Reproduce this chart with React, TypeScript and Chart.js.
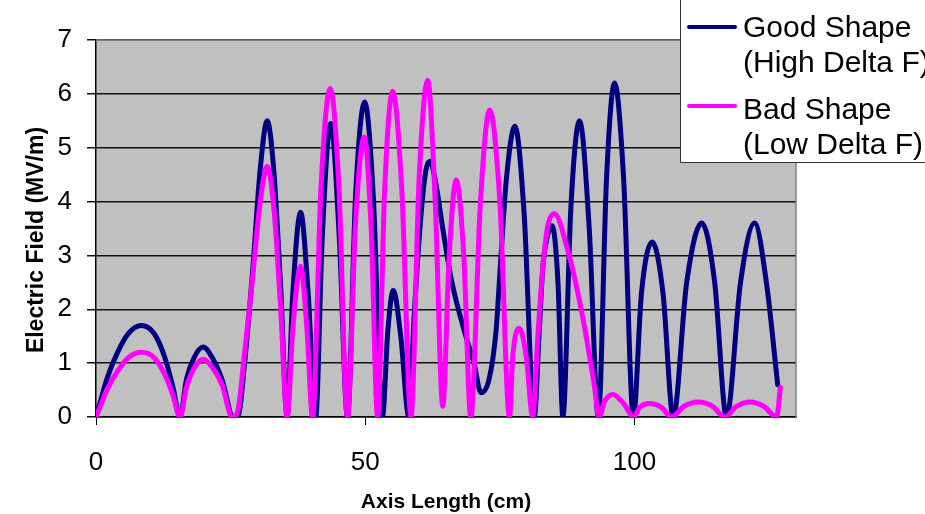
import React, { useEffect, useRef } from "react";
import { Chart, registerables } from "chart.js";

Chart.register(...registerables);

// ---- data ----
const goodLabel = ["Good Shape", "(High Delta F)"];
const badLabel = ["Bad Shape", "(Low Delta F)"];
const xTitle = "Axis Length (cm)";
const yTitle = "Electric Field (MV/m)";

const goodX = [
  0, 1, 2, 4, 6, 8.4, 10.8, 12.8, 14.3, 15.6,
  16.8, 18.2, 19.9, 21.6, 23.4, 25.5,
  26.5, 27.5, 29, 30.5, 31.8, 33, 34.3, 35.5,
  36.5, 38, 39.4, 40.8,
  42, 43.6, 45.2, 46.7,
  48.2, 49.9, 51.5, 53.2,
  54.2, 55.2, 56.6, 58.1,
  59.1, 60.4, 61.3, 62, 63, 64.4, 66, 68.4, 70.2, 71.5, 73, 74.3, 74.9, 76.2, 77.8, 79.5, 81.4,
  82.3, 83, 84.2, 84.7, 85.8, 86.7,
  88.2, 89.8, 91.6, 93.3,
  94.8, 96.3, 98, 99.8,
  101.3, 103.3, 105.3, 107.2,
  109.7, 112.5, 114.9, 117.1,
  119.7, 122.3, 124.5, 126.6,
];
const goodY = [
  0, 0.35, 0.7, 1.2, 1.55, 1.7, 1.55, 1.1, 0.55, 0,
  0.7, 1.1, 1.3, 1.1, 0.7, 0,
  0.05, 0.9, 2.6, 4.6, 5.5, 4.6, 2.4, 0,
  2.2, 3.8, 2.3, 0,
  3.3, 5.45, 3.3, 0,
  4.1, 5.85, 4.1, 0,
  1.6, 2.35, 1.5, 0,
  1.9, 3.8, 4.6, 4.75, 4.4, 3.5, 2.55, 1.6, 1.0, 0.45, 0.7, 1.6, 2.5, 4.4, 5.4, 3.8, 0,
  1.56, 2.8, 3.48, 3.55, 2.49, 0,
  3.9, 5.5, 3.5, 0,
  4.4, 6.2, 4.4, 0,
  2.3, 3.25, 2.3, 0,
  2.5, 3.6, 2.5, 0,
  2.5, 3.6, 2.5, 0.6,
];

const badX = [
  0, 1, 2, 4, 6, 8.4, 10.8, 12.8, 14.3, 15.6,
  16.8, 18.2, 19.9, 21.6, 23.4, 25.3,
  26.3, 27.4, 29, 30.5, 31.8, 33.1, 34.3, 35.5,
  36.6, 38, 39.2, 40.2,
  41.8, 43.5, 45.1, 46.7,
  48.2, 49.8, 51.1, 52.3,
  53.6, 55.1, 56.8, 58.5,
  60, 61.6, 63, 64.4, 65.6, 66.9, 68.3, 69.6,
  71.4, 73.1, 75, 76.8,
  77.4, 78.6, 79.9, 81.1,
  82.1, 83, 83.9, 85.1, 87.6, 90.1, 92.6, 93.4,
  94.5, 96, 98, 99.8,
  101, 102.8, 105, 106.9,
  109.2, 111.9, 114.5, 116.8,
  119, 121.5, 124, 126.4, 127.1,
];
const badY = [
  0, 0.25, 0.5, 0.85, 1.1, 1.2, 1.1, 0.78, 0.4, 0,
  0.55, 0.9, 1.07, 0.92, 0.6, 0,
  0.1, 1.0, 2.5, 4.0, 4.65, 3.8, 2.0, 0,
  1.7, 2.8, 1.6, 0,
  4.3, 6.1, 4.3, 0,
  3.6, 5.2, 3.5, 0,
  4.2, 6.05, 4.2, 0,
  4.4, 6.25, 4.0, 0.2, 3.0, 4.4, 3.0, 0,
  4.0, 5.7, 4.0, 0,
  1.12, 1.65, 1.12, 0,
  1.56, 2.8, 3.54, 3.78, 3.1, 2.0, 0.55, 0,
  0.3, 0.42, 0.25, 0,
  0.18, 0.25, 0.18, 0,
  0.2, 0.28, 0.2, 0,
  0.2, 0.28, 0.2, 0, 0.55,
];

const xTicks = [0, 50, 100];
const xMax = 130;
const yMax = 7;

const GOOD_COLOR = "#000080";
const BAD_COLOR = "#FF00FF";
const SANS = '"Liberation Sans", Arial, sans-serif';

const toPoints = (xs: number[], ys: number[]) => xs.map((x, i) => ({ x, y: ys[i] }));

const decorPlugin = {
  id: "decor",
  beforeDraw(chart: any) {
    const { ctx, chartArea: a } = chart;
    ctx.save();
    ctx.fillStyle = "#ffffff";
    ctx.fillRect(0, 0, chart.width, chart.height);
    ctx.fillStyle = "#C0C0C0";
    ctx.fillRect(a.left, a.top, a.right - a.left, a.bottom - a.top);
    ctx.restore();
  },
  beforeDatasetsDraw(chart: any) {
    const { ctx, chartArea: a } = chart;
    ctx.save();
    ctx.strokeStyle = "#808080";
    ctx.lineWidth = 1.5;
    ctx.beginPath();
    ctx.moveTo(a.left, a.top);
    ctx.lineTo(a.right, a.top);
    ctx.lineTo(a.right, a.bottom);
    ctx.stroke();
    ctx.restore();
  },
  afterDraw(chart: any) {
    const { ctx, chartArea: a } = chart;
    ctx.save();
    // y axis title
    ctx.fillStyle = "#000";
    ctx.font = `bold 23px ${SANS}`;
    ctx.textAlign = "center";
    ctx.textBaseline = "alphabetic";
    ctx.translate(43, 240);
    ctx.rotate(-Math.PI / 2);
    ctx.fillText(yTitle, 0, 0);
    ctx.restore();

    // legend
    const boxL = 680;
    const boxB = 162;
    ctx.save();
    ctx.fillStyle = "#ffffff";
    ctx.fillRect(boxL, -2, chart.width - boxL + 2, boxB + 2);
    ctx.strokeStyle = "#333333";
    ctx.lineWidth = 1;
    ctx.beginPath();
    ctx.moveTo(boxL + 0.5, 0);
    ctx.lineTo(boxL + 0.5, boxB + 0.5);
    ctx.lineTo(chart.width, boxB + 0.5);
    ctx.stroke();
    const entries = [
      { lines: goodLabel, color: GOOD_COLOR, lineY: 27, base: [37, 72] },
      { lines: badLabel, color: BAD_COLOR, lineY: 106, base: [119, 154] },
    ];
    ctx.font = `30px ${SANS}`;
    ctx.textAlign = "left";
    ctx.textBaseline = "alphabetic";
    for (const e of entries) {
      ctx.strokeStyle = e.color;
      ctx.lineWidth = 4;
      ctx.lineCap = "round";
      ctx.beginPath();
      ctx.moveTo(689, e.lineY);
      ctx.lineTo(735, e.lineY);
      ctx.stroke();
      ctx.fillStyle = "#000";
      e.lines.forEach((t, i) => ctx.fillText(t, 743, e.base[i]));
    }
    ctx.restore();
  },
};

export default function App() {
  const ref = useRef<HTMLCanvasElement | null>(null);

  useEffect(() => {
    if (!ref.current) return;
    const chart = new Chart(ref.current, {
      type: "line",
      data: {
        datasets: [
          {
            label: goodLabel.join(" "),
            data: toPoints(goodX, goodY),
            borderColor: GOOD_COLOR,
            backgroundColor: GOOD_COLOR,
            borderWidth: 5,
            pointRadius: 0,
            fill: false,
            cubicInterpolationMode: "monotone",
            borderJoinStyle: "round",
            borderCapStyle: "round",
            order: 1,
          },
          {
            label: badLabel.join(" "),
            data: toPoints(badX, badY),
            borderColor: BAD_COLOR,
            backgroundColor: BAD_COLOR,
            borderWidth: 5,
            pointRadius: 0,
            fill: false,
            cubicInterpolationMode: "monotone",
            borderJoinStyle: "round",
            borderCapStyle: "round",
            order: 0,
          },
        ],
      },
      options: {
        animation: false,
        responsive: false,
        devicePixelRatio: 1,
        layout: { padding: { top: 40, right: 129, left: 0, bottom: 0 } },
        plugins: { legend: { display: false }, tooltip: { enabled: false } },
        scales: {
          x: {
            type: "linear",
            min: 0,
            max: xMax,
            afterBuildTicks: (s: any) => {
              s.ticks = xTicks.map((v) => ({ value: v }));
            },
            afterFit: (s: any) => {
              s.height = 97;
            },
            grid: { drawOnChartArea: false, drawTicks: true, tickLength: 8, color: "#000", lineWidth: 1 },
            border: { display: true, color: "#000", width: 1.5 },
            ticks: {
              font: { family: SANS, size: 26 },
              color: "#000",
              padding: 22,
              maxRotation: 0,
              autoSkip: false,
            },
            title: {
              display: true,
              text: xTitle,
              color: "#000",
              font: { family: SANS, size: 21, weight: "bold", lineHeight: 1 },
              padding: { top: 0, bottom: 1 },
            },
          },
          y: {
            type: "linear",
            min: 0,
            max: yMax,
            afterFit: (s: any) => {
              s.width = 96;
            },
            grid: { drawTicks: true, tickLength: 9, color: "#111", lineWidth: 1.5 },
            border: { display: true, color: "#000", width: 1.5 },
            ticks: {
              stepSize: 1,
              font: { family: SANS, size: 26 },
              color: "#000",
              padding: 15,
            },
            title: { display: false },
          },
        },
      },
      plugins: [decorPlugin],
    } as any);
    return () => chart.destroy();
  }, []);

  return (
    <div style={{ position: "absolute", left: 0, top: 0, width: 925, height: 514 }}>
      <canvas ref={ref} width={925} height={514} />
    </div>
  );
}
